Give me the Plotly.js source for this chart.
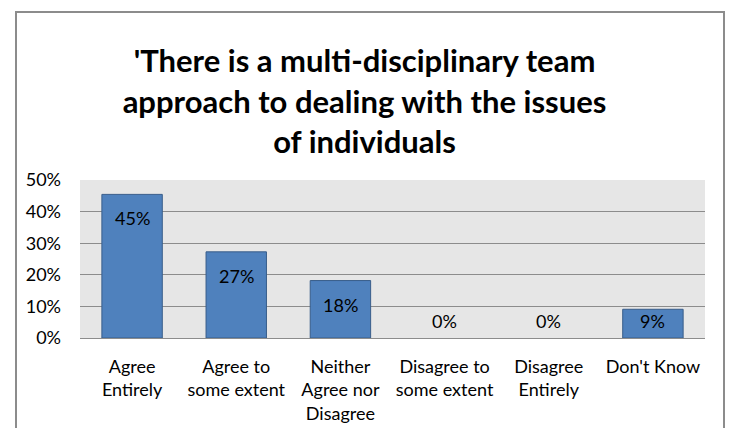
<!DOCTYPE html>
<html>
<head>
<meta charset="utf-8">
<script src="https://cdn.plot.ly/plotly-3.0.1.min.js"></script>
<style>
html,body{margin:0;padding:0;background:#fff;}
#wrap{position:relative;width:729px;height:428px;overflow:hidden;}
#chart{position:absolute;left:0;top:0;width:729px;height:428px;}
#frame{position:absolute;left:15px;top:11px;width:706px;height:440px;border:2px solid #8c8c8c;pointer-events:none;}
</style>
</head>
<body>
<div id="wrap"><div id="chart"></div><div id="frame"></div></div>
<script>
const categories = ["Agree<br>Entirely", "Agree to<br>some extent", "Neither<br>Agree nor<br>Disagree", "Disagree to<br>some extent", "Disagree<br>Entirely", "Don't Know"];
const values = [45.45, 27.27, 18.18, 0, 0, 9.09];
const labels = ["45%", "27%", "18%", "0%", "0%", "9%"];
const titleText = "'There is a multi-disciplinary team<br>approach to dealing with the issues<br>of individuals";

const font = "Lato, 'Open Sans', sans-serif";

const annotations = values.map((v, i) => ({
  x: categories[i],
  y: Math.max(v - 7.6, 5.4),
  xref: 'x', yref: 'y',
  text: labels[i],
  showarrow: false,
  yanchor: 'middle',
  font: {family: font, size: 18, color: '#000'}
}));

const trace = {
  type: 'bar',
  x: categories,
  y: values,
  marker: {color: '#4f81bd', line: {color: '#385d8a', width: values.map(v => v > 0 ? 1 : 0)}},
  width: 0.58,
  hoverinfo: 'none'
};

const layout = {
  width: 729, height: 428,
  margin: {l: 80, r: 24, t: 180, b: 90},
  paper_bgcolor: '#ffffff',
  plot_bgcolor: '#e6e6e6',
  title: {
    text: '<b>' + titleText + '</b>',
    font: {family: font, size: 31, color: '#000'},
    x: 0.5, xanchor: 'center',
    y: 0.831, yanchor: 'middle'
  },
  showlegend: false,
  xaxis: {
    type: 'category',
    showgrid: false,
    showline: false,
    ticks: '',
    ticklabelstandoff: 16,
    tickfont: {family: font, size: 18, color: '#000'},
    tickangle: 0,
    fixedrange: true
  },
  yaxis: {
    range: [0, 50],
    dtick: 10,
    ticksuffix: '%',
    showgrid: true,
    gridcolor: '#8c8c8c',
    gridwidth: 1,
    zeroline: true,
    zerolinecolor: '#8c8c8c',
    zerolinewidth: 1,
    showline: false,
    ticks: '',
    ticklabelstandoff: 18,
    tickfont: {family: font, size: 18, color: '#000'},
    fixedrange: true
  },
  annotations: annotations
};

Plotly.newPlot('chart', [trace], layout, {displayModeBar: false, staticPlot: true});
</script>
</body>
</html>
